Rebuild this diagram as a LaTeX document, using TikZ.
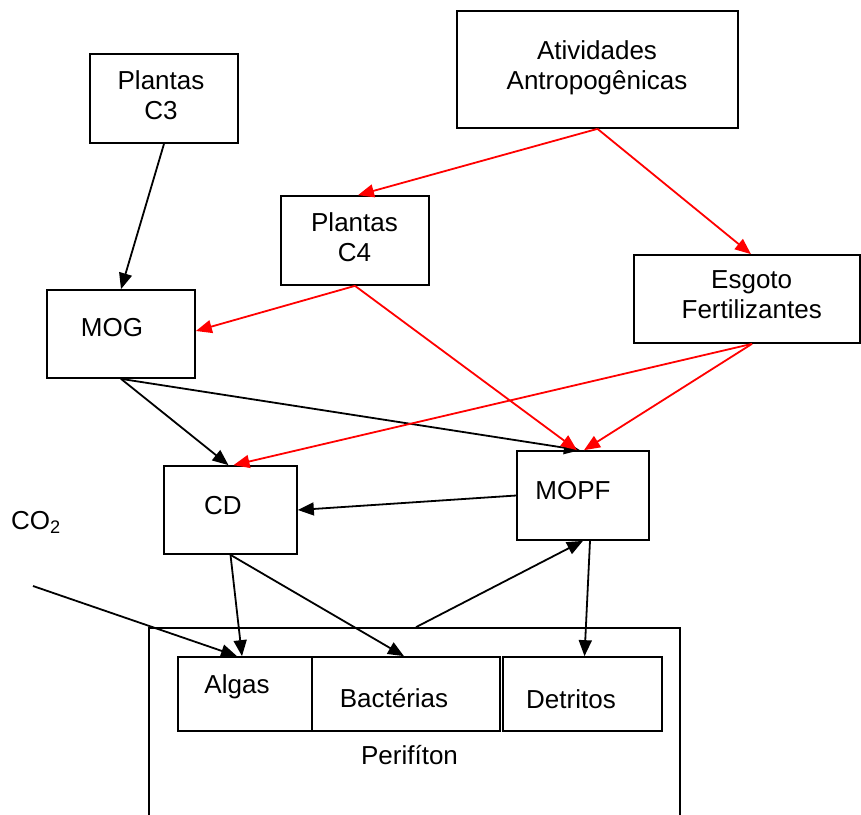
\documentclass[tikz,border=0pt]{standalone}
\usepackage{fontspec}
\setmainfont{Liberation Sans}
\usetikzlibrary{arrows.meta,calc}
\begin{document}
\begin{tikzpicture}[x=1pt,y=-1pt,
  box/.style={draw, line width=1.7pt, inner sep=0pt, rectangle},
  txt/.style={inner sep=0pt, font=\fontsize{26}{30}\selectfont, align=center},
  arr/.style={line width=1.8pt, -{Triangle[length=16pt,width=13pt]}},
  redarr/.style={arr, draw=red, fill=red}]
\useasboundingbox (0,0) rectangle (861,814);
\clip (0,0) rectangle (861,814);
% boxes
\node[box, minimum width=148pt, minimum height=89pt] (c3) at (164,98.5) {};
\node[box, minimum width=281pt, minimum height=117pt] (aa) at (597.5,69.5) {};
\node[box, minimum width=148pt, minimum height=89pt] (c4) at (355,240.5) {};
\node[box, minimum width=226pt, minimum height=88pt] (esg) at (747,299) {};
\node[box, minimum width=148pt, minimum height=88pt] (mog) at (121,334) {};
\node[box, minimum width=133pt, minimum height=88pt] (cd) at (230.5,510) {};
\node[box, minimum width=132pt, minimum height=89pt] (mopf) at (583,495.5) {};
\node[box, minimum width=531pt, minimum height=222pt] (per) at (414.5,739) {};
\node[box, minimum width=134pt, minimum height=74pt] (algas) at (245,694) {};
\node[box, minimum width=188pt, minimum height=74pt] (bact) at (406,694) {};
\node[box, minimum width=159pt, minimum height=74pt] (detr) at (582.5,694) {};
% texts
\node[txt, anchor=north] (tc3) at (161,70) {Plantas\\C3};
\node[txt, anchor=north] (tc4) at (354.5,212.7) {Plantas\\C4};
\node[txt, anchor=north] (taa) at (597,40.7) {Atividades\\Antropogênicas};
\node[txt, anchor=north] (tesg) at (751.7,270.7) {Esgoto\\Fertilizantes};
\node[txt, anchor=base] (tmog) at (112,336.7) {MOG};
\node[txt, anchor=base] (tcd) at (223,514) {CD};
\node[txt, anchor=base] (tmopf) at (573,499) {MOPF};
\node[txt, anchor=base] (talgas) at (237,693) {Algas};
\node[txt, anchor=base] (tbact) at (394,707) {Bactérias};
\node[txt, anchor=base] (tdetr) at (571,708) {Detritos};
\node[txt, anchor=base] (tper) at (409.5,764) {Perifíton};
\node[txt, anchor=base west] (co2) at (11,529) {CO\textsubscript{2}};
\coordinate (co2start) at (33,586);
% black arrows
\draw[arr] (c3.south) -- (mog.north);
\draw[arr] (mog.south) -- ([xshift=-2pt]cd.north);
\draw[arr] (mog.south) -- ([xshift=-3pt]mopf.north);
\draw[arr] (mopf.west) -- (cd.east);
\draw[arr] (cd.south) -- ([xshift=-3pt]algas.north);
\draw[arr] (co2start) -- ([xshift=-8pt]algas.north);
\draw[arr] (cd.south) -- ([xshift=-2pt]bact.north);
\draw[arr] ([xshift=1.5pt]per.north) -- (mopf.south);
\draw[arr] ([xshift=7pt]mopf.south) -- ([xshift=2pt]detr.north);
% red arrows
\draw[redarr] (aa.south) -- ([xshift=3pt]c4.north);
\draw[redarr] (aa.south) -- ([xshift=4pt]esg.north);
\draw[redarr] (c4.south) -- ([yshift=3pt]mog.east);
\draw[redarr] (c4.south) -- ([xshift=-6pt]mopf.north);
\draw[redarr] ([xshift=5pt]esg.south) -- ([xshift=3pt]cd.north);
\draw[redarr] ([xshift=5pt]esg.south) -- ([xshift=1pt]mopf.north);
\end{tikzpicture}
\end{document}
